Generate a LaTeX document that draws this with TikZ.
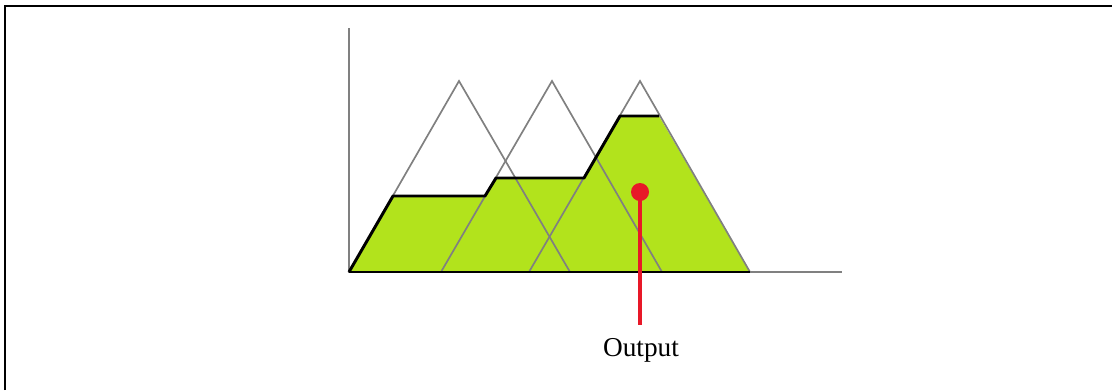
\documentclass[tikz,border=0pt]{standalone}
\usepackage{fontspec}
\setmainfont{Liberation Serif}
\usetikzlibrary{positioning, calc}
\definecolor{fuzzgreen}{RGB}{178,227,28}
\definecolor{fuzzred}{RGB}{232,24,40}

\begin{document}
\begin{tikzpicture}[x=0.025cm, y=-0.025cm, g/.style={draw=gray, line width=1.2pt}, top/.style={draw=black, line width=2.1pt, line join=round}, redline/.style={draw=fuzzred, line width=2.6pt}]
  \useasboundingbox (0,0) rectangle (1112,390);
  \draw[line width=1.6pt] (5,390) -- (5,6) -- (1112,6);
  % axes and base points of the sets
  \coordinate (o) at (349,272);
  \coordinate (ytop) at (349,28);
  \coordinate (xend) at (842,272);
  \foreach \n/\l/\m/\r in {1/349/459/570, 2/441/552/662, 3/529/640/750}{
    \coordinate (l\n) at (\l,272);
    \coordinate (p\n) at (\m,81);
    \coordinate (r\n) at (\r,272);
  }
  % clipped output set
  \fill[fuzzgreen] (o) -- (393,196) -- (485,196) -- (496,178) -- (584,178) -- (620,116) -- (659,116) -- (r3) -- cycle;
  \foreach \n in {1,2,3}{\draw[g] (l\n) -- (p\n) -- (r\n);}
  \draw[g] (ytop) -- (o) -- (xend);
  \draw[top] (o) -- (393,196) -- (485,196) -- (496,178) -- (584,178) -- (620,116) -- (659,116);
  \draw[top, line width=1.6pt] (o) -- (r3);
  % centroid
  \node[circle, fill=fuzzred, inner sep=0pt, minimum size=0.45cm] (c) at (640,192) {};
  \node[font=\fontsize{19.4}{22}\selectfont, inner sep=1pt] (lab) at (641,350) {Output};
  \coordinate (cend) at (640,325);
  \draw[redline] (c.center) -- (cend);
\end{tikzpicture}
\end{document}
